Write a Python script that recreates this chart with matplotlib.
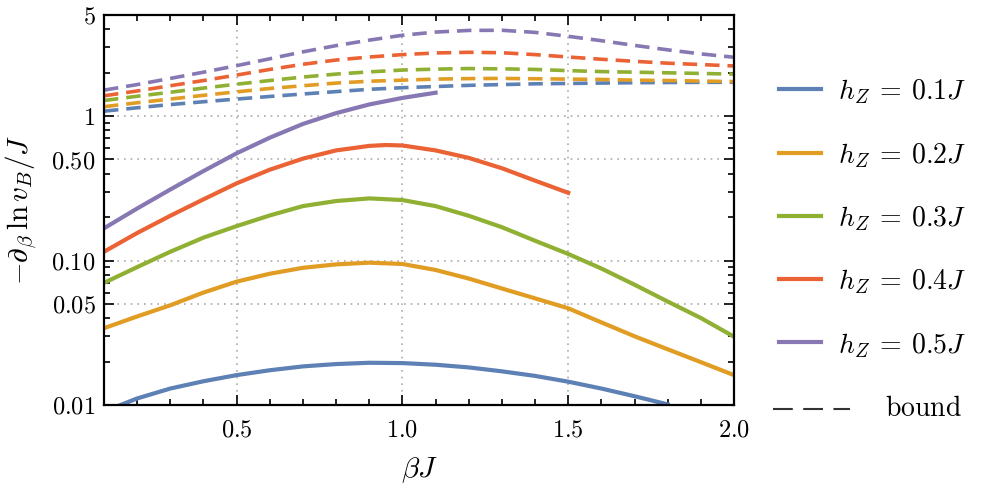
import numpy as np
import matplotlib
matplotlib.use("Agg")
import matplotlib.pyplot as plt
from matplotlib.lines import Line2D
from matplotlib.ticker import FixedLocator, NullFormatter

plt.rcParams['mathtext.fontset'] = 'cm'
plt.rcParams['font.family'] = 'serif'
plt.rcParams['font.serif'] = ['cmr10', 'DejaVu Serif']

# series data (beta*J on x, -d_beta ln v_B / J on y)
x_full = [0.1, 0.2, 0.3, 0.4, 0.5, 0.6, 0.7, 0.8, 0.9, 1.0,
          1.1, 1.2, 1.3, 1.4, 1.5, 1.6, 1.7, 1.8, 1.9, 2.0]

x_h1 = [0.15, 0.2, 0.3, 0.4, 0.5, 0.6, 0.7, 0.8, 0.9, 1.0,
        1.1, 1.2, 1.3, 1.4, 1.5, 1.6, 1.7, 1.8]
y_h1 = [0.0100, 0.0111, 0.0130, 0.0146, 0.0161, 0.0174, 0.0185, 0.0192, 0.0196, 0.0195,
        0.0190, 0.0182, 0.0171, 0.0159, 0.0145, 0.0130, 0.0115, 0.0101]

y_h2 = [0.034, 0.041, 0.049, 0.060, 0.0714, 0.081, 0.089, 0.094, 0.0966, 0.0946,
        0.086, 0.075, 0.064, 0.0547, 0.0467, 0.0373, 0.0299, 0.0243, 0.0198, 0.0161]

y_h3 = [0.070, 0.090, 0.115, 0.144, 0.173, 0.205, 0.238, 0.258, 0.269, 0.262,
        0.238, 0.204, 0.170, 0.137, 0.111, 0.088, 0.068, 0.052, 0.040, 0.0297]

x_h4 = [0.1, 0.2, 0.3, 0.4, 0.5, 0.6, 0.7, 0.8, 0.9, 0.95, 1.0,
        1.1, 1.2, 1.3, 1.4, 1.5]
y_h4 = [0.115, 0.155, 0.204, 0.265, 0.342, 0.425, 0.507, 0.578, 0.621, 0.630, 0.625,
        0.578, 0.513, 0.435, 0.357, 0.294]

x_h5 = [0.1, 0.2, 0.3, 0.4, 0.5, 0.6, 0.7, 0.8, 0.9, 1.0, 1.1]
y_h5 = [0.167, 0.229, 0.310, 0.416, 0.552, 0.708, 0.881, 1.047, 1.202, 1.334, 1.449]

# bounds (dashed)
xb = x_full
b_h1 = [1.08, 1.14, 1.20, 1.255, 1.31, 1.365, 1.42, 1.475, 1.53, 1.57,
        1.60, 1.63, 1.65, 1.67, 1.68, 1.69, 1.70, 1.705, 1.71, 1.71]
b_h2 = [1.16, 1.235, 1.31, 1.39, 1.47, 1.55, 1.62, 1.69, 1.74, 1.77,
        1.80, 1.815, 1.82, 1.81, 1.80, 1.79, 1.77, 1.76, 1.745, 1.73]
b_h3 = [1.28, 1.37, 1.46, 1.56, 1.66, 1.76, 1.86, 1.95, 2.02, 2.08,
        2.11, 2.13, 2.12, 2.10, 2.06, 2.03, 2.01, 1.99, 1.97, 1.95]
b_h4 = [1.38, 1.49, 1.62, 1.76, 1.92, 2.10, 2.28, 2.44, 2.56, 2.66,
        2.73, 2.76, 2.74, 2.66, 2.56, 2.47, 2.39, 2.32, 2.27, 2.22]
b_h5 = [1.51, 1.65, 1.82, 2.01, 2.23, 2.49, 2.78, 3.07, 3.35, 3.62,
        3.81, 3.91, 3.92, 3.79, 3.56, 3.32, 3.08, 2.87, 2.69, 2.55]

labels = [r'$h_Z \:=\: 0.1J$', r'$h_Z \:=\: 0.2J$', r'$h_Z \:=\: 0.3J$',
          r'$h_Z \:=\: 0.4J$', r'$h_Z \:=\: 0.5J$']
colors = ['#5E81B5', '#E19C24', '#8FB032', '#EB6235', '#8778B3']

fig = plt.figure(figsize=(9.84, 4.92), dpi=100)
ax = fig.add_axes([104/984, 1 - 405/492, 630/984, 390/492])

solid = [(x_h1, y_h1), (x_full, y_h2), (x_full, y_h3), (x_h4, y_h4), (x_h5, y_h5)]
bounds = [b_h1, b_h2, b_h3, b_h4, b_h5]

for (xs, ys), bs, c in zip(solid, bounds, colors):
    ax.plot(xb, bs, color=c, lw=2.6, dashes=(4, 2.2), solid_capstyle='butt')
    ax.plot(xs, ys, color=c, lw=3, solid_joinstyle='round')

ax.set_yscale('log')
ax.set_xlim(0.1, 2.0)
ax.set_ylim(0.01, 5)

ax.set_xticks([0.5, 1.0, 1.5, 2.0])
ax.set_xticklabels([r'$0.5$', r'$1.0$', r'$1.5$', r'$2.0$'])
ax.xaxis.set_minor_locator(FixedLocator(np.arange(0.1, 2.0, 0.1)))

yt = [0.01, 0.05, 0.1, 0.5, 1, 5]
ax.yaxis.set_major_locator(FixedLocator(yt))
ax.set_yticklabels([r'$0.01$', r'$0.05$', r'$0.10$', r'$0.50$', r'$1$', r'$5$'])
minor_y = [v * d for d in [0.01, 0.1, 1] for v in range(1, 10)]
minor_y = [m for m in minor_y if m not in yt and m <= 5]
ax.yaxis.set_minor_locator(FixedLocator(minor_y))
ax.yaxis.set_minor_formatter(NullFormatter())

ax.tick_params(which='both', direction='in', top=True, right=True, labelsize=17.5, width=1.2)
ax.tick_params(which='major', length=7)
ax.tick_params(which='minor', length=4)
ax.tick_params(axis='x', pad=10)
ax.tick_params(axis='y', pad=6)
for s in ax.spines.values():
    s.set_linewidth(1.6)

for gx in [0.5, 1.0, 1.5]:
    ax.axvline(gx, color='#aaaaaa', lw=1.2, ls=(0, (1, 3)), zorder=0)
for gy in [0.05, 0.1, 0.5, 1]:
    ax.axhline(gy, color='#aaaaaa', lw=1.2, ls=(0, (1, 3)), zorder=0)

ax.set_xlabel(r'$\beta J$', fontsize=21, labelpad=10)
ax.set_ylabel(r'$-\partial_\beta\, \ln v_B / J$', fontsize=21, labelpad=8)

# legend drawn by hand (Mathematica style, bound entry has a longer handle)
leg_y = [89, 152.7, 215.7, 279, 342.3]
for yy, c, lab in zip(leg_y, colors, labels):
    fy = 1 - yy / 492
    fig.add_artist(Line2D([779/984, 821/984], [fy, fy], color=c, lw=3))
    fig.text(838/984, fy - 3/492, lab, fontsize=20, va='center', ha='left')
fy = 1 - 409 / 492
fig.add_artist(Line2D([773/984, 850/984], [fy, fy], color='#333333', lw=1.5, dashes=(9.5, 5)))
fig.text(885/984, fy, r'$\mathrm{bound}$', fontsize=20, va='center', ha='left')

fig.savefig('out.png', dpi=100)
